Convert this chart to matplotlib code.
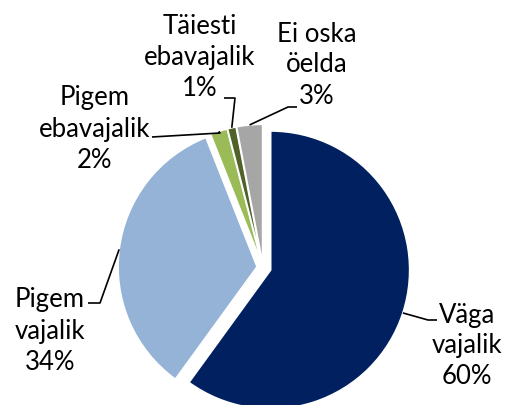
import numpy as np
import matplotlib.pyplot as plt

# hinnangud küsitlusest, päripäeva alates ülevalt
categories = ["Väga\nvajalik", "Pigem\nvajalik", "Pigem\nebavajalik",
              "Täiesti\nebavajalik", "Ei oska\nöelda"]
shares = [60, 34, 2, 1, 3]
colors = ["#002060", "#95B3D7", "#9BBB59", "#4F6228", "#A6A6A6"]
explode = [0.058, 0.043, 0.03, 0.03, 0.03]

W, H = 515, 405
CX, CY, R = 263, 267.5, 139


def px(x, y):
    # pikslid -> andmekoordinaadid (1 ühik = pirukaraadius)
    return (x - CX) / R, (CY - y) / R


# sildi keskpunkt ja juhtjoone murdepunktid pikslites
label_pos = [(467, 346), (50, 331), (95, 129), (200, 58), (317, 65)]
leader_pts = [
    [(428, 320), (437, 320)],
    [(100, 303), (88, 303)],
    [(220, 133), (152, 137)],
    [(235, 98), (224, 98)],
    [(288, 107), (297, 107)],
]

plt.rcParams['font.family'] = ['Lato', 'DejaVu Sans']

fig = plt.figure(figsize=(W / 100, H / 100), dpi=100)
ax = fig.add_axes([0, 0, 1, 1])
wedges, _ = ax.pie(shares, colors=colors, explode=explode, startangle=90,
                   counterclock=False,
                   wedgeprops=dict(edgecolor='white', linewidth=1.2))
ax.set_aspect('equal')
ax.set_xlim(px(0, 0)[0], px(W, 0)[0])
ax.set_ylim(px(0, H)[1], px(0, 0)[1])
ax.axis('off')

for w, cat, val, pos, pts in zip(wedges, categories, shares, label_pos, leader_pts):
    mid = np.deg2rad((w.theta1 + w.theta2) / 2)
    ax0 = w.center[0] + w.r * np.cos(mid)
    ay0 = w.center[1] + w.r * np.sin(mid)
    xs = [ax0] + [px(*p)[0] for p in pts]
    ys = [ay0] + [px(*p)[1] for p in pts]
    ax.plot(xs, ys, color='black', lw=1.2, solid_capstyle='butt')
    tx, ty = px(*pos)
    ax.text(tx, ty, f"{cat}\n{val}%", ha='center', va='center',
            fontsize=18.5, linespacing=1.3, color='black')

fig.savefig("out.png", dpi=100)
